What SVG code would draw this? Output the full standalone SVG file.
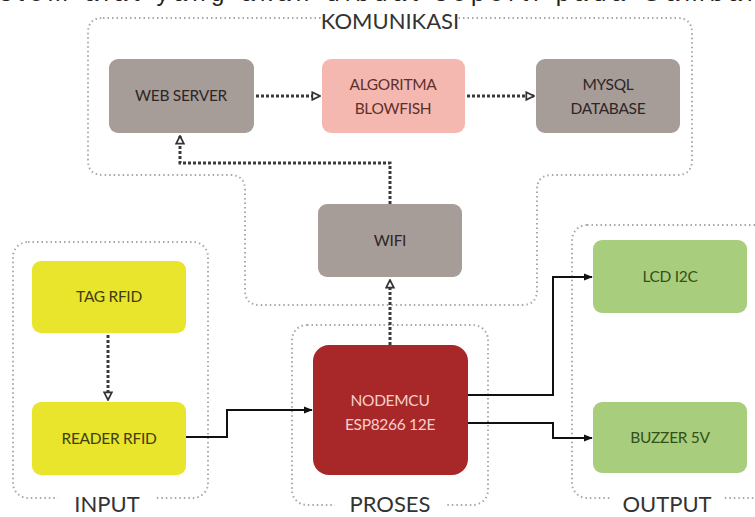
<svg xmlns="http://www.w3.org/2000/svg" width="755" height="517" viewBox="0 0 755 517">
<defs>
<style>
.cont{fill:none;stroke:#a9a9a9;stroke-width:2;stroke-dasharray:1.5 3;}
.lbl{font-family:Lato,"Open Sans",sans-serif;font-size:22px;fill:#333;text-anchor:middle;}
.bt{font-family:Lato,"Open Sans",sans-serif;font-size:15.5px;text-anchor:middle;letter-spacing:-0.3px;}
.dot{fill:none;stroke:#3a3a3a;stroke-width:3;stroke-dasharray:3 2;}
.sol{fill:none;stroke:#111;stroke-width:2;}
</style>
<marker id="ho" viewBox="0 0 10 10" refX="9" refY="5" markerWidth="3.2" markerHeight="3.2" orient="auto" markerUnits="strokeWidth">
<path d="M1,1 L9,5 L1,9 Z" fill="#fff" stroke="#333" stroke-width="1.8"/>
</marker>
<marker id="so" viewBox="0 0 10 10" refX="9" refY="5" markerWidth="4.5" markerHeight="4.5" orient="auto" markerUnits="strokeWidth">
<path d="M0,1 L10,5 L0,9 Z" fill="#111"/>
</marker>
</defs>
<rect width="755" height="517" fill="#fff"/>
<text x="0" y="1" font-family="'Liberation Sans',Arial,sans-serif" font-size="24" fill="#222" textLength="755" lengthAdjust="spacing">stem alat yang akan dibuat seperti pada Gambar</text>

<g id="komunikasi">
<path class="cont" d="M103,18 H677 Q692,18 692,33 V160 Q692,175 677,175 H552 Q537,175 537,190 V290 Q537,305 522,305 H260 Q245,305 245,290 V190 Q245,175 230,175 H103 Q88,175 88,160 V33 Q88,18 103,18 Z"/>
<rect x="325" y="8" width="130" height="22" fill="#fff"/>
<text class="lbl" x="390" y="29" font-size="19">KOMUNIKASI</text>
</g>
<g id="input">
<rect class="cont" x="13" y="242" width="195" height="256" rx="15"/>
<rect x="58" y="490" width="98" height="27" fill="#fff"/>
<text class="lbl" x="107" y="512">INPUT</text>
</g>
<g id="proses">
<rect class="cont" x="292" y="325" width="196" height="180" rx="15"/>
<rect x="335" y="492" width="110" height="25" fill="#fff"/>
<text class="lbl" x="390" y="512">PROSES</text>
</g>
<g id="output">
<rect class="cont" x="572" y="225" width="200" height="273" rx="15"/>
<rect x="612" y="490" width="110" height="27" fill="#fff"/>
<text class="lbl" x="667" y="512">OUTPUT</text>
</g>

<g id="connectors">
<path class="dot" d="M256,96 H320" marker-end="url(#ho)"/>
<path class="dot" d="M467,96 H534" marker-end="url(#ho)"/>
<path class="dot" d="M390,204 V163 H180 V136" marker-end="url(#ho)"/>
<path class="dot" d="M390,345 V280" marker-end="url(#ho)"/>
<path class="dot" d="M108,335 V400" marker-end="url(#ho)"/>
<path class="sol" d="M186,437 H227 V410 H312" marker-end="url(#so)"/>
<path class="sol" d="M468,395 H553 V277 H592" marker-end="url(#so)"/>
<path class="sol" d="M468,423 H553 V438 H592" marker-end="url(#so)"/>
</g>

<g id="web-server">
<rect x="109" y="59" width="145" height="74" rx="9" fill="#a79d98"/>
<text class="bt" x="181" y="101" fill="#2e2626">WEB SERVER</text>
</g>
<g id="algoritma-blowfish">
<rect x="322" y="59" width="143" height="74" rx="9" fill="#f5b8b0"/>
<text class="bt" x="393" y="90" fill="#5e302c">ALGORITMA</text>
<text class="bt" x="393" y="114" fill="#5e302c">BLOWFISH</text>
</g>
<g id="mysql-database">
<rect x="536" y="59" width="144" height="74" rx="9" fill="#a79d98"/>
<text class="bt" x="608" y="90" fill="#2e2626">MYSQL</text>
<text class="bt" x="608" y="114" fill="#2e2626">DATABASE</text>
</g>
<g id="wifi">
<rect x="318" y="204" width="144" height="73" rx="9" fill="#a79d98"/>
<text class="bt" x="390" y="246" fill="#2e2626">WIFI</text>
</g>
<g id="nodemcu">
<rect x="313" y="345" width="155" height="130" rx="16" fill="#a8282a"/>
<text class="bt" x="390" y="406" fill="#f8d0ca">NODEMCU</text>
<text class="bt" x="390" y="430" fill="#f8d0ca">ESP8266 12E</text>
</g>
<g id="tag-rfid">
<rect x="32" y="261" width="154" height="72" rx="9" fill="#e9e42c"/>
<text class="bt" x="109" y="302" fill="#3e3e10">TAG RFID</text>
</g>
<g id="reader-rfid">
<rect x="32" y="402" width="154" height="73" rx="9" fill="#e9e42c"/>
<text class="bt" x="109" y="444" fill="#3e3e10">READER RFID</text>
</g>
<g id="lcd-i2c">
<rect x="593" y="240" width="154" height="73" rx="9" fill="#a8cd7c"/>
<text class="bt" x="670" y="282" fill="#33501a">LCD I2C</text>
</g>
<g id="buzzer-5v">
<rect x="593" y="402" width="154" height="71" rx="9" fill="#a8cd7c"/>
<text class="bt" x="670" y="443" fill="#33501a">BUZZER 5V</text>
</g>
</svg>
